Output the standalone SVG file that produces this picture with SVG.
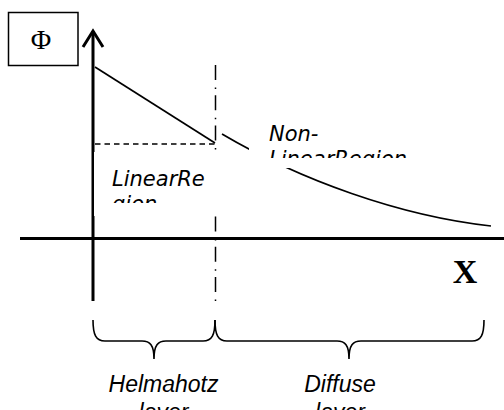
<svg xmlns="http://www.w3.org/2000/svg" width="504" height="410" viewBox="0 0 504 410">
<style>
.axis{stroke:#000;stroke-width:3;fill:none}
.ln{stroke:#000;stroke-width:1.7;fill:none}
.dash{stroke:#000;stroke-width:1.5;fill:none;stroke-dasharray:5.5 4}
.dd{stroke:#000;stroke-width:1.5;fill:none;stroke-dasharray:15 7.5 1.5 6.3}
.brace{stroke:#000;stroke-width:1.6;fill:none}
.cover{fill:#fff;stroke:none}
.reg{font-family:"DejaVu Sans",Verdana,sans-serif;font-style:italic;font-size:21px;fill:#000}
.lay{font-family:"Liberation Sans",Arial,sans-serif;font-style:italic;font-size:23px;fill:#000;text-anchor:middle}
</style>
<defs>
<clipPath id="clipLin"><rect x="94" y="152" width="124" height="51"/></clipPath>
<clipPath id="clipNon"><rect x="249" y="112" width="180" height="46"/></clipPath>
</defs>
<g id="connectors">
<line class="axis" x1="20" y1="238.5" x2="504" y2="238.5"/>
<line class="axis" x1="93" y1="31" x2="93" y2="301"/>
<polyline class="axis" points="83,47 93,31 103,47"/>
<line class="ln" x1="95" y1="67" x2="215" y2="143"/>
<line class="dash" x1="95" y1="144" x2="215" y2="144"/>
<line class="dd" x1="215.5" y1="65" x2="215.5" y2="302"/>
<path class="ln" d="M222,134 C300,180 400,216 491,226"/>
</g>
<g id="phi-label">
<rect x="8.5" y="12.5" width="69.5" height="53" fill="#fff" stroke="#000" stroke-width="1.5"/>
<text x="41" y="48.5" font-family="Liberation Serif,'Times New Roman',serif" font-size="28" text-anchor="middle">Φ</text>
</g>
<g id="linear-region">
<rect class="cover" x="94" y="152" width="124" height="64"/>
<g clip-path="url(#clipLin)">
<text class="reg" x="112" y="186">LinearRe</text>
<text class="reg" x="112" y="211">gion</text>
</g>
</g>
<g id="nonlinear-region">
<rect class="cover" x="249" y="112" width="180" height="56"/>
<g clip-path="url(#clipNon)">
<text class="reg" x="269" y="141">Non-</text>
<text class="reg" x="269" y="166">LinearRegion</text>
</g>
</g>
<g id="x-label">
<text x="465" y="283" font-family="Liberation Serif,'Times New Roman',serif" font-weight="bold" font-size="34" text-anchor="middle">X</text>
</g>
<g id="helmholtz-layer">
<path class="brace" d="M93,320 C93,335 96,341 105,341 L142,341 C150,341 154,345 154,359 C154,345 158,341 166,341 L203,341 C212,341 215,335 215,320"/>
<text class="lay" x="163.5" y="392">Helmahotz</text>
<text class="lay" x="163.5" y="420">layer</text>
</g>
<g id="diffuse-layer">
<path class="brace" d="M215,320 C215,335 218,341 227,341 L337,341 C345,341 349,345 349,359 C349,345 353,341 361,341 L472,341 C481,341 484,335 484,320"/>
<text class="lay" x="340" y="392">Diffuse</text>
<text class="lay" x="340" y="420">layer</text>
</g>
</svg>
